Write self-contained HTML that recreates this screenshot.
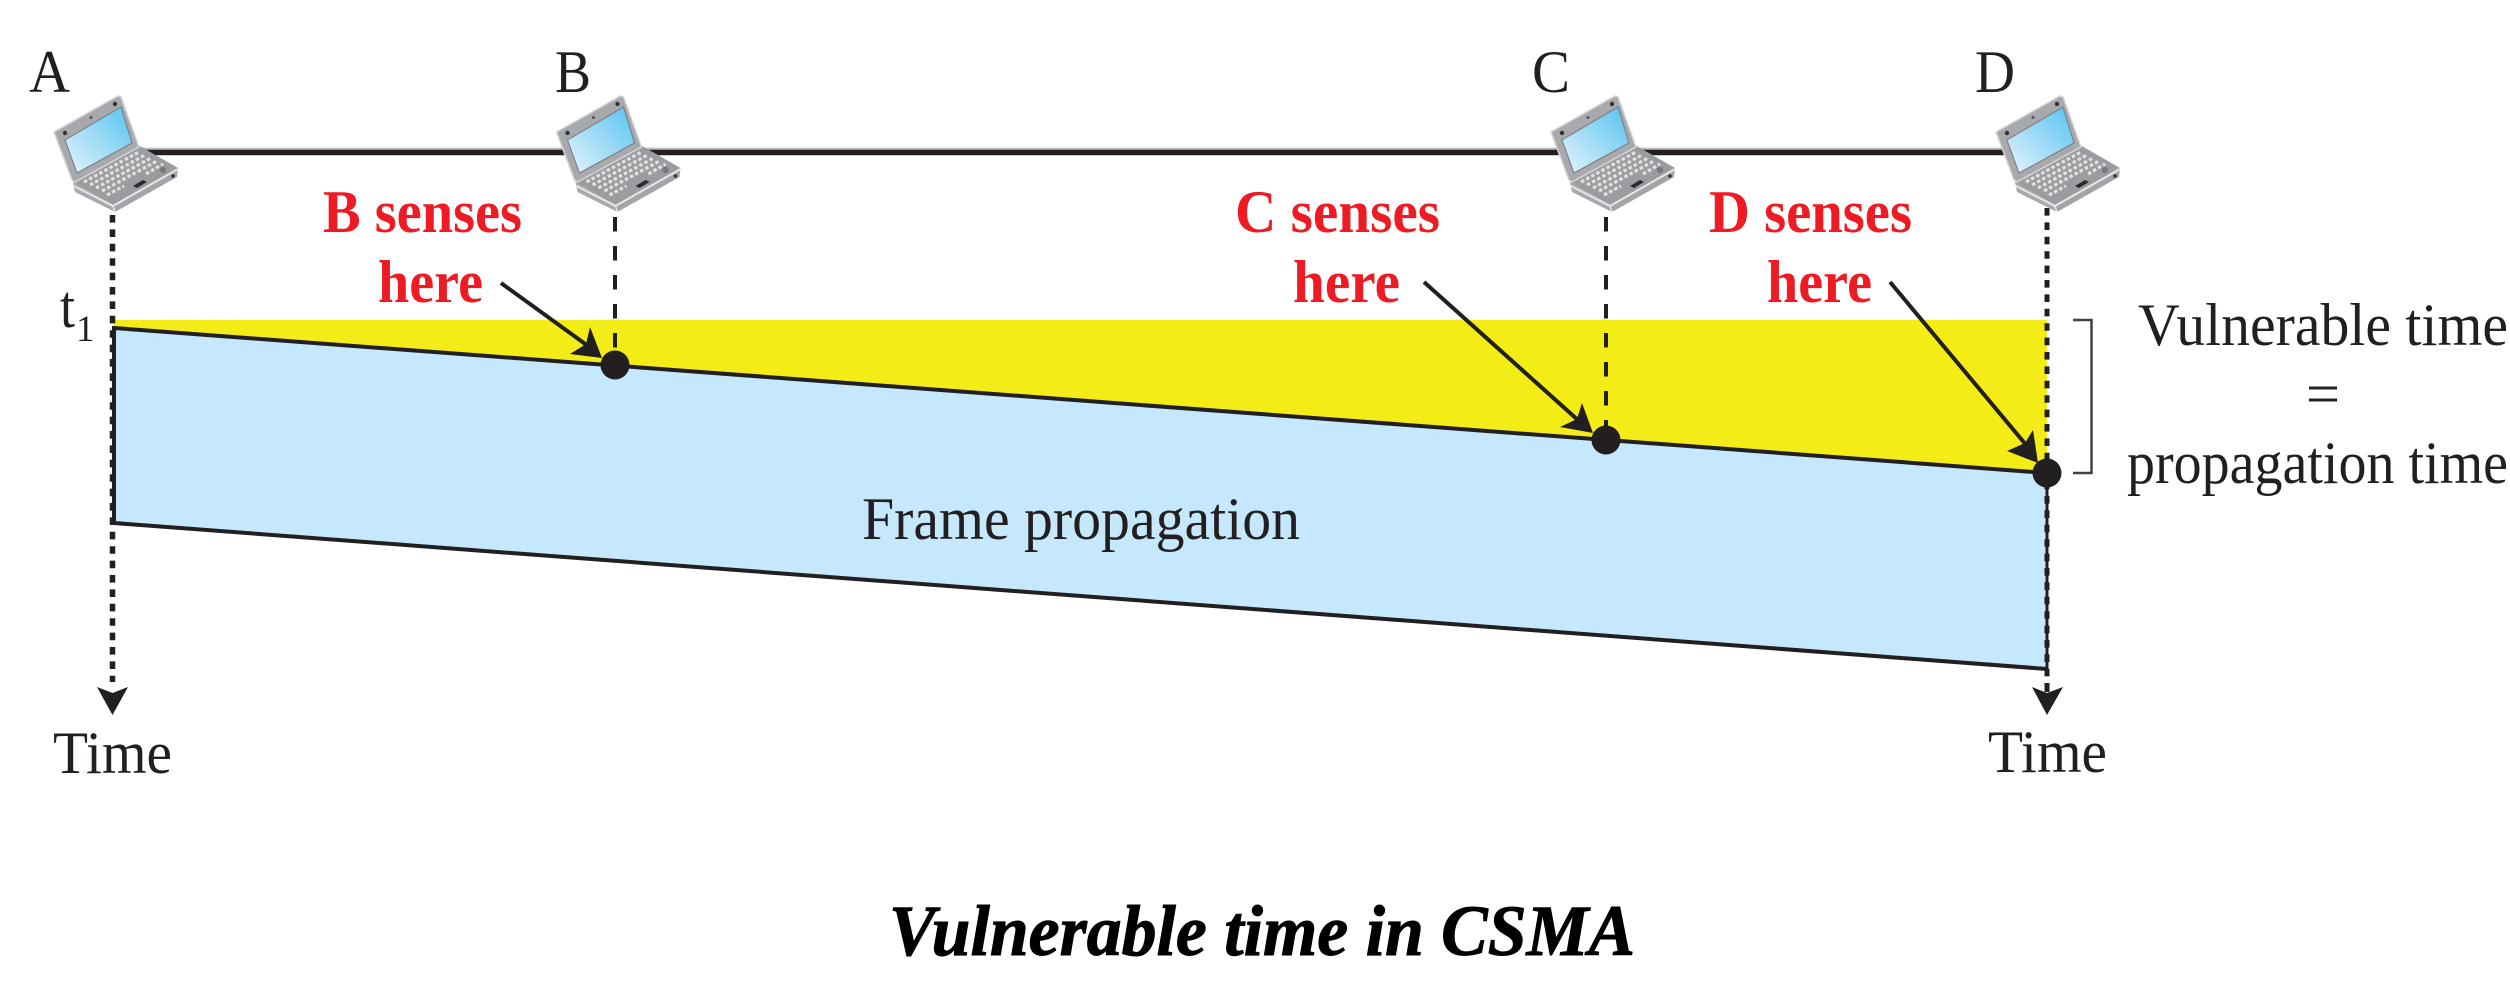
<!DOCTYPE html>
<html><head><meta charset="utf-8"><style>
html,body{margin:0;padding:0;background:#fff}
svg{display:block}
text{font-family:"Liberation Serif",serif;fill:#231f20;font-size:60px}
.r{font-weight:bold;fill:#ed1c24;font-size:60px}
</style></head><body>
<svg width="2510" height="1000" viewBox="0 0 2510 1000" xmlns="http://www.w3.org/2000/svg">
<defs>
<linearGradient id="scr" x1="0" y1="1" x2="1" y2="0"><stop offset="0" stop-color="#e6f4fc"/><stop offset="1" stop-color="#55c2f0"/></linearGradient>
<g id="lap">
<polygon points="73,182 113,205 115,212 75,192" fill="#a7a9ac"/>
<polygon points="113,205 178,168 177,177 115,212" fill="#a2a4a7"/>
<polygon points="73,182 138,145 178,168 113,205" fill="#9a9c9f"/>
<polyline points="74,186 113,206 178,169" fill="none" stroke="#e6e7e8" stroke-width="2"/>
<line x1="113" y1="206" x2="115" y2="212" stroke="#e6e7e8" stroke-width="1.5"/>
<g stroke="#e0e1e2" stroke-width="3.2" stroke-dasharray="3.6 2.2">
<line x1="84" y1="182" x2="139" y2="152"/>
<line x1="90" y1="185" x2="145" y2="155"/>
<line x1="96" y1="188" x2="151" y2="158"/>
<line x1="102" y1="191" x2="157" y2="161"/>
<line x1="107" y1="195" x2="124" y2="186"/>
<line x1="146" y1="174" x2="163" y2="164"/>
</g>
<polygon points="133,186 143,180 147,182 137,188" fill="#2b2b2d"/>
<circle cx="163" cy="170" r="3.2" fill="#77797c"/>
<circle cx="173" cy="176" r="1.8" fill="#333"/>
<polygon points="54,132 118,96 121,97 139,147 75,182 72,180" fill="#a7a9ac" stroke="#d4d5d6" stroke-width="1.5"/>
<polygon points="65,140 121,107 132,143 77,173" fill="url(#scr)" stroke="#77797c" stroke-width="1"/>
<circle cx="65" cy="133" r="2.2" fill="#333"/><circle cx="115" cy="104" r="2.2" fill="#333"/><circle cx="91" cy="117.5" r="1.5" fill="#555"/>
</g>
</defs>

<line x1="130" y1="149" x2="2010" y2="149" stroke="#bbb" stroke-width="2.5"/>
<line x1="130" y1="152.5" x2="2010" y2="152.5" stroke="#231f20" stroke-width="5.5"/>

<polygon points="114,320 2047,320 2047,473 114,328" fill="#f3ec16"/>
<polygon points="114,328 2047,473 2047,669 114,523" fill="#c5e8fc"/>
<polyline points="2047,473 114,328 114,523 2047,669" fill="none" stroke="#231f20" stroke-width="4"/>
<line x1="2047" y1="473" x2="2047" y2="669" stroke="#231f20" stroke-width="3"/>

<line x1="112.5" y1="215" x2="112.5" y2="682" stroke="#231f20" stroke-width="5.5" stroke-dasharray="7.6 6.8"/>
<line x1="2047" y1="208" x2="2047" y2="677" stroke="#231f20" stroke-width="5" stroke-dasharray="7.6 6.8"/>
<line x1="2047" y1="683" x2="2047" y2="692" stroke="#231f20" stroke-width="5"/>
<polygon points="97,687 112.5,693 128,687 112.5,715" fill="#231f20"/>
<polygon points="2032,687 2047,693 2063,687 2047,715" fill="#231f20"/>

<line x1="615" y1="217" x2="615" y2="352" stroke="#231f20" stroke-width="4" stroke-dasharray="14.5 14.5"/>
<line x1="1606" y1="217" x2="1606" y2="427" stroke="#231f20" stroke-width="4" stroke-dasharray="14.5 14.5"/>

<use href="#lap"/>
<use href="#lap" x="502.5"/>
<use href="#lap" x="1497"/>
<use href="#lap" x="1942"/>

<circle cx="615" cy="365" r="14.5" fill="#231f20"/>
<circle cx="1606" cy="440" r="14.5" fill="#231f20"/>
<circle cx="2047" cy="473" r="14.5" fill="#231f20"/>

<line x1="501" y1="283" x2="588" y2="346" stroke="#231f20" stroke-width="4"/>
<polygon points="602,358 570,354 586,344 590,327" fill="#231f20"/>
<line x1="1424" y1="282" x2="1579" y2="421" stroke="#231f20" stroke-width="4"/>
<polygon points="1593,433 1560,427 1577,419 1582,403" fill="#231f20"/>
<line x1="1890" y1="282" x2="2027" y2="446" stroke="#231f20" stroke-width="4"/>
<polygon points="2038,463 2007,451 2025,443 2033,430" fill="#231f20"/>

<polyline points="2073,320 2091.5,320 2091.5,473 2073,473" fill="none" stroke="#414042" stroke-width="2.5"/>

<text x="29" y="92" textLength="41" lengthAdjust="spacingAndGlyphs">A</text>
<text x="555" y="92" textLength="36" lengthAdjust="spacingAndGlyphs">B</text>
<text x="1532" y="92" textLength="38" lengthAdjust="spacingAndGlyphs">C</text>
<text x="1975" y="92" textLength="40" lengthAdjust="spacingAndGlyphs">D</text>
<text x="60" y="327" textLength="15" lengthAdjust="spacingAndGlyphs">t</text>
<text x="76" y="341" style="font-size:37px">1</text>

<text class="r" x="323" y="232" textLength="199" lengthAdjust="spacingAndGlyphs">B senses</text>
<text class="r" x="378" y="302" textLength="105" lengthAdjust="spacingAndGlyphs">here</text>
<text class="r" x="1235" y="232" textLength="205" lengthAdjust="spacingAndGlyphs">C senses</text>
<text class="r" x="1293" y="302" textLength="107" lengthAdjust="spacingAndGlyphs">here</text>
<text class="r" x="1709" y="232" textLength="203" lengthAdjust="spacingAndGlyphs">D senses</text>
<text class="r" x="1767" y="302" textLength="105" lengthAdjust="spacingAndGlyphs">here</text>

<text x="2138" y="345" textLength="370" lengthAdjust="spacingAndGlyphs">Vulnerable time</text>
<text x="2306" y="414" textLength="34" lengthAdjust="spacingAndGlyphs">=</text>
<text x="2127" y="483" textLength="381" lengthAdjust="spacingAndGlyphs">propagation time</text>
<text x="862" y="539" textLength="438" lengthAdjust="spacingAndGlyphs">Frame propagation</text>
<text x="53" y="773" textLength="119" lengthAdjust="spacingAndGlyphs">Time</text>
<text x="1988" y="772" textLength="119" lengthAdjust="spacingAndGlyphs">Time</text>
<text x="889" y="955" style="font-size:72px;font-weight:bold;font-style:italic;fill:#000;stroke:#000;stroke-width:1" textLength="746" lengthAdjust="spacingAndGlyphs">Vulnerable time in CSMA</text>
</svg>
</body></html>
